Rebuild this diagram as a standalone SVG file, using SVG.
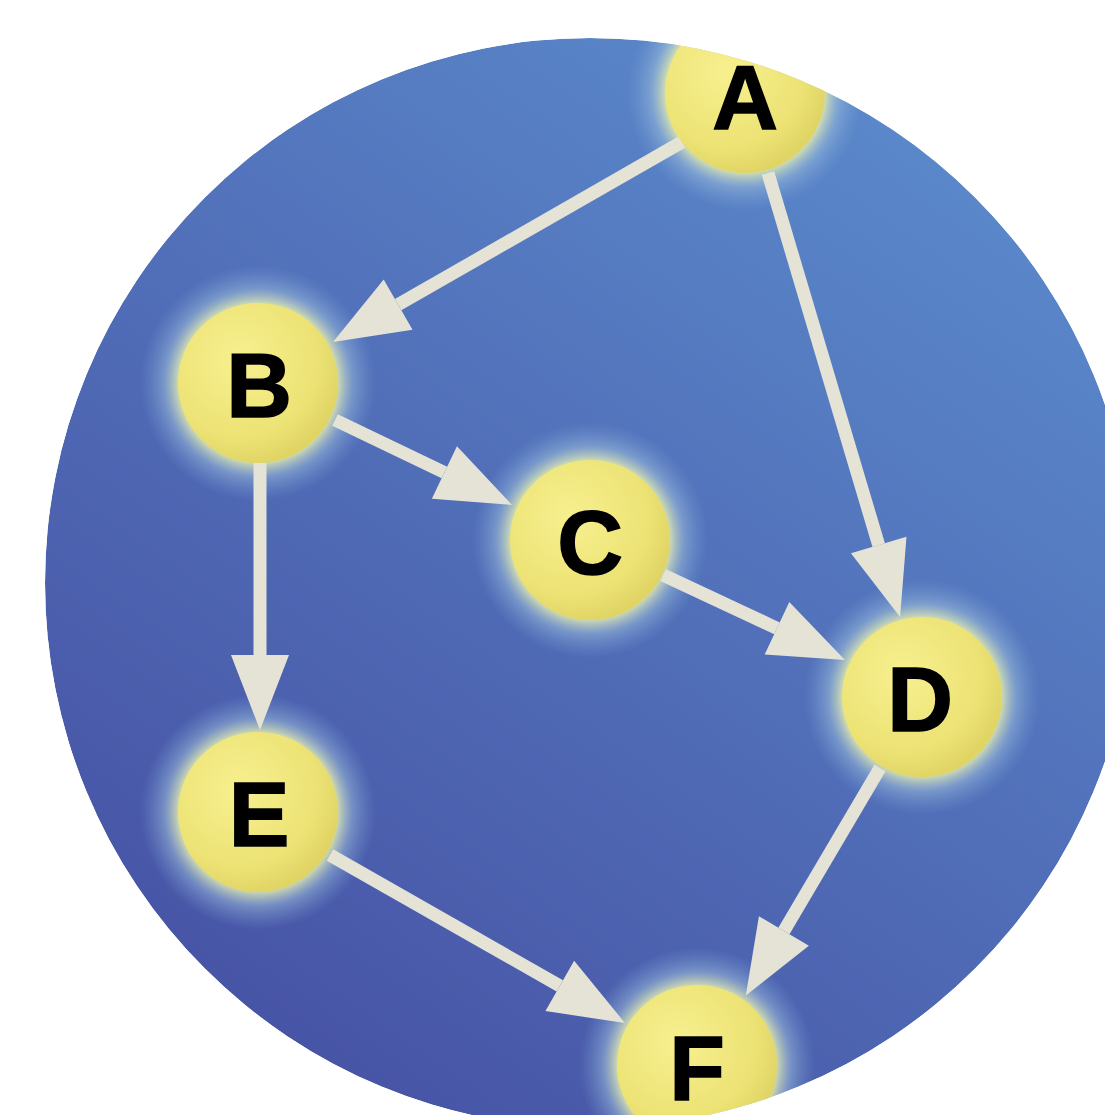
<svg xmlns="http://www.w3.org/2000/svg" width="1105" height="1115" viewBox="0 0 1105 1115">
  <defs>
    <linearGradient id="bg" gradientUnits="userSpaceOnUse" x1="900" y1="120" x2="250" y2="1050">
      <stop offset="0" stop-color="#5a88ca"/>
      <stop offset="1" stop-color="#4753a5"/>
    </linearGradient>
    <radialGradient id="ball" cx="0.38" cy="0.36" r="0.66">
      <stop offset="0" stop-color="#f7f08f"/>
      <stop offset="0.75" stop-color="#ece274"/>
      <stop offset="1" stop-color="#dfd464"/>
    </radialGradient>
    <radialGradient id="halo" cx="0.5" cy="0.5" r="0.5">
      <stop offset="0.68" stop-color="#dfe9b2" stop-opacity="0.85"/>
      <stop offset="0.8" stop-color="#9fc0dc" stop-opacity="0.5"/>
      <stop offset="1" stop-color="#7aa0d6" stop-opacity="0"/>
    </radialGradient>
    <clipPath id="disc">
      <circle cx="590" cy="583" r="545"/>
    </clipPath>
    <marker id="head" markerUnits="userSpaceOnUse" markerWidth="80" markerHeight="62" refX="0" refY="29" orient="auto" overflow="visible">
      <path d="M0,0 L75,29 L0,58 Z" fill="#e5e3d5"/>
    </marker>
    <style>
      .edge { stroke: #e5e3d5; stroke-width: 13; fill: none; marker-end: url(#head); }
      .halo { fill: url(#halo); }
      .ball { fill: url(#ball); }
      .lbl { font-family: "Liberation Sans", Arial, sans-serif; font-weight: bold; font-size: 91px; fill: #000; stroke: #000; stroke-width: 1.5; text-anchor: middle; }
    </style>
  </defs>

  <g clip-path="url(#disc)">
    <circle cx="590" cy="583" r="545" fill="url(#bg)"/>

    <!-- glow behind each ball -->
    <g id="halos">
      <circle class="halo" cx="745" cy="93" r="118"/>
      <circle class="halo" cx="258" cy="383" r="118"/>
      <circle class="halo" cx="590" cy="540" r="118"/>
      <circle class="halo" cx="922" cy="697" r="118"/>
      <circle class="halo" cx="258" cy="812" r="118"/>
      <circle class="halo" cx="697" cy="1065" r="118"/>
    </g>

    <!-- shafts end at the arrowhead base; heads come from the marker -->
    <g id="connectors">
      <line class="edge" x1="682" y1="142" x2="398.1" y2="304.7"/>
      <line class="edge" x1="768" y1="173" x2="878.7" y2="545.1"/>
      <line class="edge" x1="335" y1="420" x2="444.4" y2="472.5"/>
      <line class="edge" x1="663" y1="575" x2="777" y2="628.3"/>
      <line class="edge" x1="260" y1="463" x2="260" y2="655"/>
      <line class="edge" x1="330" y1="855" x2="559.8" y2="985.9"/>
      <line class="edge" x1="880" y1="768" x2="783.9" y2="931"/>
    </g>

    <g id="balls">
      <circle id="ball-A" class="ball" cx="745" cy="93" r="80"/>
      <circle id="ball-B" class="ball" cx="258" cy="383" r="80"/>
      <circle id="ball-C" class="ball" cx="590" cy="540" r="80"/>
      <circle id="ball-D" class="ball" cx="922" cy="697" r="80"/>
      <circle id="ball-E" class="ball" cx="258" cy="812" r="80"/>
      <circle id="ball-F" class="ball" cx="697" cy="1065" r="80"/>
    </g>
  </g>

  <!-- labels sit above the clipped disc -->
  <g id="node-A"><text class="lbl" x="745" y="129">A</text></g>
  <g id="node-B"><text class="lbl" x="259" y="417">B</text></g>
  <g id="node-C"><text class="lbl" x="590" y="574">C</text></g>
  <g id="node-D"><text class="lbl" x="920" y="731">D</text></g>
  <g id="node-E"><text class="lbl" x="259" y="846">E</text></g>
  <g id="node-F"><text class="lbl" x="697" y="1100">F</text></g>
</svg>
